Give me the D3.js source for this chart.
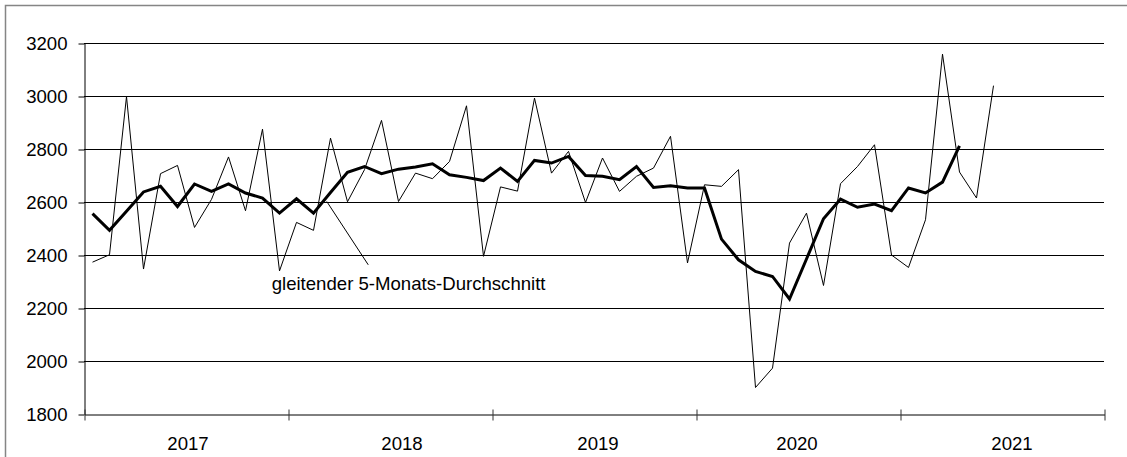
<!DOCTYPE html>
<html>
  <head>
    <meta charset="utf-8">
    <script src="https://d3js.org/d3.v7.min.js"></script>
    <style>
      html, body { margin: 0; padding: 0; background: #fff; }
      svg { display: block; font-family: Arial, "Liberation Sans", sans-serif; }
    </style>
  </head>
  <body>
    <svg id="chart" width="1127" height="457"></svg>
    <script>
      // monthly values, Jan 2017 .. Jun 2021
      var monthly = [2373, 2401, 2998, 2347, 2707, 2738, 2504, 2610, 2770, 2567, 2875, 2340,
                     2523, 2493, 2841, 2601, 2722, 2908, 2602, 2709, 2688, 2753, 2963, 2395,
                     2657, 2641, 2992, 2709, 2791, 2598, 2766, 2640, 2697, 2728, 2848, 2370,
                     2665, 2659, 2722, 1900, 1973, 2445, 2558, 2285, 2669, 2734, 2816, 2400,
                     2353, 2533, 3158, 2713, 2615, 3039];
      // gleitender 5-Monats-Durchschnitt, Jan 2017 .. Apr 2021
      var average = [2556, 2493, 2565, 2638, 2659, 2583, 2668, 2640, 2668, 2634, 2615, 2558,
                     2612, 2558, 2636, 2712, 2734, 2707, 2724, 2732, 2744, 2703, 2693, 2681,
                     2728, 2678, 2757, 2747, 2772, 2700, 2697, 2684, 2734, 2655, 2661, 2653,
                     2653, 2460, 2382, 2338, 2319, 2234, 2385, 2537, 2611, 2580, 2592, 2567,
                     2653, 2634, 2675, 2812];
      var years = ["2017", "2018", "2019", "2020", "2021"];
      var yTicks = [1800, 2000, 2200, 2400, 2600, 2800, 3000, 3200];
      var labelText = "gleitender 5-Monats-Durchschnitt";

      var svg = d3.select("#chart");
      var plotLeft = 84, plotRight = 1104, plotTop = 43, plotBottom = 414;
      var months = years.length * 12;
      var fontSize = 18.6;
      // the year labels in the original sit a little off the year centres
      var yearNudge = [2, 12, 4, -1, 10];

      var x = d3.scaleLinear().domain([0, months]).range([plotLeft, plotRight]);
      var y = d3.scaleLinear().domain([1800, 3200]).range([plotBottom, plotTop]);

      // outer frame
      svg.append("rect")
        .attr("x", 5.5).attr("y", 5.5)
        .attr("width", 1140).attr("height", 470)
        .attr("fill", "#fff")
        .attr("stroke", "#858585")
        .attr("stroke-width", 1.5);

      // gridlines
      svg.append("g")
        .selectAll("line")
        .data(yTicks.slice(1))
        .enter()
        .append("line")
        .attr("x1", plotLeft).attr("x2", plotRight)
        .attr("y1", d => Math.round(y(d)) + 0.5)
        .attr("y2", d => Math.round(y(d)) + 0.5)
        .style("stroke", "#000")
        .style("stroke-width", 1);

      // y axis
      var yAxis = svg.append("g")
        .attr("transform", `translate(${plotLeft + 0.5},0.5)`)
        .call(d3.axisLeft(y).tickValues(yTicks).tickFormat(d3.format("d"))
          .tickSize(6).tickSizeOuter(0).tickPadding(11));
      yAxis.select(".domain").attr("stroke", "#000");
      yAxis.selectAll(".tick line").attr("stroke", "#000");
      yAxis.selectAll(".tick text")
        .attr("font-family", "Arial, 'Liberation Sans', sans-serif")
        .attr("font-size", fontSize)
        .attr("fill", "#000");

      // x axis
      var xAxis = svg.append("g")
        .attr("transform", `translate(0.5,${Math.round(plotBottom) + 0.5})`)
        .call(d3.axisBottom(x).tickValues(d3.range(0, months + 1, 12)).tickFormat("").tickSizeOuter(0));
      xAxis.select(".domain").attr("stroke", "#000");
      xAxis.selectAll(".tick line")
        .attr("y1", -5).attr("y2", 6)
        .attr("stroke", "#333");

      // year labels
      svg.append("g")
        .selectAll("text")
        .data(years)
        .enter()
        .append("text")
        .attr("x", (d, i) => x(i * 12 + 6) + yearNudge[i])
        .attr("y", 450)
        .attr("text-anchor", "middle")
        .attr("font-size", fontSize)
        .attr("fill", "#000")
        .text(d => d);

      var line = d3.line()
        .x((d, i) => x(i + 0.5))
        .y(d => y(d));

      svg.append("path")
        .datum(monthly)
        .attr("d", line)
        .attr("fill", "none")
        .attr("stroke", "#000")
        .attr("stroke-width", 1);

      svg.append("path")
        .datum(average)
        .attr("d", line)
        .attr("fill", "none")
        .attr("stroke", "#000")
        .attr("stroke-width", 3)
        .attr("stroke-linejoin", "miter");

      // annotation
      svg.append("line")
        .attr("x1", x(14.28)).attr("y1", y(2602))
        .attr("x2", x(16.72)).attr("y2", y(2363))
        .attr("stroke", "#000")
        .attr("stroke-width", 1);

      svg.append("text")
        .attr("x", x(11.04))
        .attr("y", y(2269))
        .attr("font-size", fontSize)
        .attr("fill", "#000")
        .text(labelText);
    </script>
  </body>
</html>
